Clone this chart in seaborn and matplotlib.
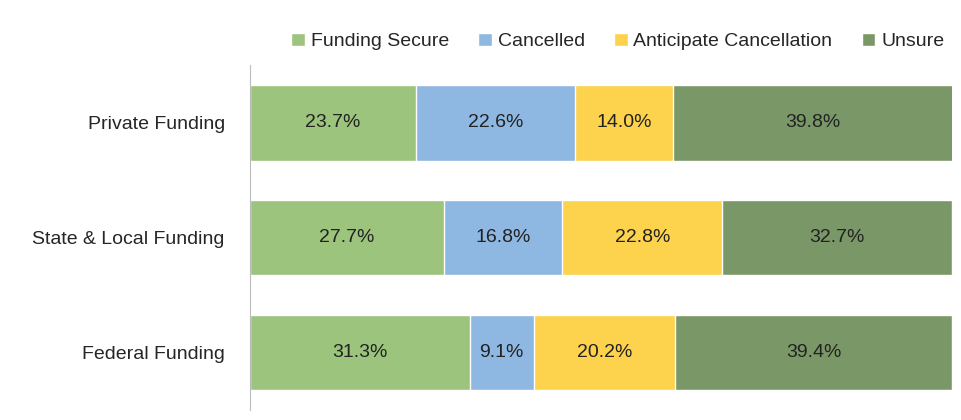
import matplotlib
matplotlib.use("Agg")
import matplotlib.pyplot as plt
import seaborn as sns
import pandas as pd
import numpy as np

categories = ["Private Funding", "State & Local Funding", "Federal Funding"]
series = ["Funding Secure", "Cancelled", "Anticipate Cancellation", "Unsure"]
funding_secure = [23.7, 27.7, 31.3]
cancelled = [22.6, 16.8, 9.1]
anticipate = [14.0, 22.8, 20.2]
unsure = [39.8, 32.7, 39.4]
colors = ["#9CC47D", "#8EB8E1", "#FDD24C", "#7A9767"]

sns.set_style("white")
plt.rcParams['font.family'] = ['Liberation Sans', 'DejaVu Sans']

vals = np.array([funding_secure, cancelled, anticipate, unsure])
cum = vals.cumsum(axis=0)

fig = plt.figure(figsize=(9.61, 4.2), dpi=100)
ax = fig.add_axes([0.260, 0.024, 0.7306, 0.821])
for i in range(len(series) - 1, -1, -1):
    df = pd.DataFrame({"cat": categories, "v": cum[i]})
    sns.barplot(data=df, y="cat", x="v", color=colors[i], ax=ax, width=0.66,
                saturation=1, label=series[i], orient="h")
for j in range(len(categories)):
    for i in range(len(series)):
        left = cum[i][j] - vals[i][j]
        ax.text(left + vals[i][j] / 2, j, f"{vals[i][j]:.1f}%", ha="center", va="center",
                fontsize=14, color="#222222")
ax.set_xlim(0, 100)
ax.set_ylim(2.5, -0.5)
ax.set_xlabel(""); ax.set_ylabel("")
ax.set_xticks([])
ax.tick_params(axis="y", length=0, labelsize=14, pad=18)
for s in ["top", "right", "bottom"]:
    ax.spines[s].set_visible(False)
ax.spines["left"].set_color("#BBBBBB")
h, l = ax.get_legend_handles_labels()
order = [l.index(s) for s in series]
ax.legend([h[k] for k in order], series, loc="lower right", bbox_to_anchor=(1.0, 1.02),
          ncol=4, frameon=False, fontsize=14, handlelength=0.7, handleheight=0.7,
          handletextpad=0.3, columnspacing=1.5, borderaxespad=0)
fig.savefig("out.png", dpi=100)
